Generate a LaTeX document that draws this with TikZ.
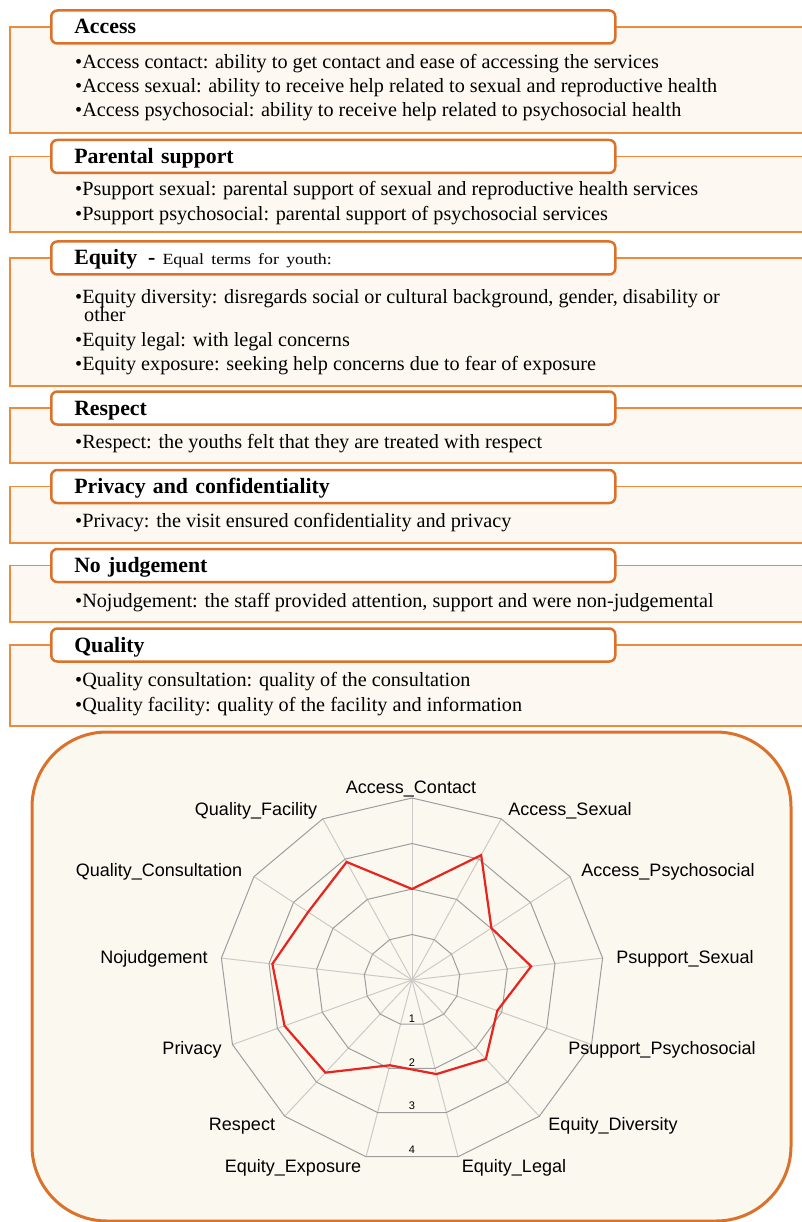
\documentclass[tikz,border=0pt]{standalone}
\usepackage{fontspec}
\setmainfont{Liberation Serif}
\setsansfont{Liberation Sans}
\newfontfamily\widefont[FakeStretch=1.15]{Liberation Serif}
\definecolor{boxorange}{RGB}{220,114,42}
\definecolor{lineorange}{RGB}{238,138,62}
\definecolor{boxcream}{RGB}{253,248,241}
\definecolor{chartcream}{RGB}{250,248,239}
\definecolor{ringgray}{RGB}{158,158,158}
\definecolor{spokegray}{RGB}{204,202,198}
\definecolor{datared}{RGB}{232,36,30}
\tikzset{
  sectionbg/.style={fill=boxcream, draw=lineorange, line width=1.8pt},
  titlebox/.style={draw=boxorange, line width=2.5pt, rounded corners=6pt, fill=white,
    anchor=west, minimum width=564pt, minimum height=33pt, inner xsep=23pt,
    text width=518pt, align=left, text height=15pt, text depth=1pt,
    font=\fontsize{21.8}{24}\selectfont\bfseries},
  itemtext/.style={anchor=base west, inner sep=0pt, font=\fontsize{20.2}{24}\selectfont},
  chartbox/.style={draw=boxorange, line width=3pt, rounded corners=75pt, fill=chartcream,
    minimum width=759pt, minimum height=489pt},
  axislabel/.style={inner sep=0pt, font=\sffamily\fontsize{18}{20}\selectfont},
  ringlabel/.style={inner sep=0pt, font=\sffamily\fontsize{11}{12}\selectfont},
  ring/.style={draw=ringgray, line width=1pt},
  spoke/.style={draw=spokegray, line width=1pt},
  dataline/.style={draw=datared, line width=2.2pt, line join=miter}
}
\begin{document}
\begin{tikzpicture}[x=1pt, y=-1pt]
  \useasboundingbox (0,0) rectangle (802,1222);

  % Section backgrounds (open to the right)
  \path[sectionbg] (802,27) -- (10,27) -- (10,133) -- (802,133);
  \path[sectionbg] (802,156.5) -- (10,156.5) -- (10,232) -- (802,232);
  \path[sectionbg] (802,258) -- (10,258) -- (10,386) -- (802,386);
  \path[sectionbg] (802,408) -- (10,408) -- (10,463) -- (802,463);
  \path[sectionbg] (802,486.5) -- (10,486.5) -- (10,543) -- (802,543);
  \path[sectionbg] (802,565.5) -- (10,565.5) -- (10,622) -- (802,622);
  \path[sectionbg] (802,645) -- (10,645) -- (10,726) -- (802,726);

  % Section titles
  \node[titlebox] (access) at (50,27) {Access};
  \node[titlebox] (psupport) at (50,156.5) {Parental support};
  \node[titlebox] (equity) at (50,258) {Equity\hspace{11pt}-\hspace{7pt}{\mdseries\widefont\fontsize{15.5}{18}\selectfont Equal terms for youth:}};
  \node[titlebox] (respect) at (50,408) {Respect};
  \node[titlebox] (privacy) at (50,486.5) {Privacy and confidentiality};
  \node[titlebox] (nojudge) at (50,565.5) {No judgement};
  \node[titlebox] (quality) at (50,645) {Quality};

  % Items
  \node[itemtext] (acccontact) at (75,69) {\textbullet Access contact: ability to get contact and ease of accessing the services};
  \node[itemtext] (accsexual) at (75,93) {\textbullet Access sexual: ability to receive help related to sexual and reproductive health};
  \node[itemtext] (accpsycho) at (75,117) {\textbullet Access psychosocial: ability to receive help related to psychosocial health};
  \node[itemtext] (pssexual) at (75,196) {\textbullet Psupport sexual: parental support of sexual and reproductive health services};
  \node[itemtext] (pspsycho) at (75,221) {\textbullet Psupport psychosocial: parental support of psychosocial services};
  \node[itemtext] (eqdiv) at (75,303) {\textbullet Equity diversity: disregards social or cultural background, gender, disability or};
  \node[itemtext] (eqdivb) at (84,321) {other};
  \node[itemtext] (eqlegal) at (75,346) {\textbullet Equity legal: with legal concerns};
  \node[itemtext] (eqexpo) at (75,370) {\textbullet Equity exposure: seeking help concerns due to fear of exposure};
  \node[itemtext] (respitem) at (75,448.5) {\textbullet Respect: the youths felt that they are treated with respect};
  \node[itemtext] (privitem) at (75,527.5) {\textbullet Privacy: the visit ensured confidentiality and privacy};
  \node[itemtext] (nojitem) at (75,607) {\textbullet Nojudgement: the staff provided attention, support and were non-judgemental};
  \node[itemtext] (qconsult) at (75,686) {\textbullet Quality consultation: quality of the consultation};
  \node[itemtext] (qfacility) at (75,711) {\textbullet Quality facility: quality of the facility and information};

  % Radar chart
  \node[chartbox] (chart) at (411.5,976.5) {};
  \begin{scope}[shift={(412,980)}, x=1.055pt, y=1pt]
    \foreach \i in {0,...,12}
      \draw[spoke] (0,0) -- ({90-\i*360/13}:182);
    \foreach \r in {1,...,4}
      \draw[ring] (90:45.5*\r) \foreach \i in {1,...,12} { -- ({90-\i*360/13}:45.5*\r) } -- cycle;
    \foreach \v [count=\i from 0] in {2.00,3.10,2.01,2.50,1.90,2.32,2.13,1.93,2.72,2.84,2.93,2.63,2.93}
      \coordinate (d\i) at ({90-\i*360/13}:\v*45.5);
    \draw[dataline] (d0) -- (d1) -- (d2) -- (d3) -- (d4) -- (d5) -- (d6) -- (d7)
      -- (d8) -- (d9) -- (d10) -- (d11) -- (d12) -- cycle;
    \node[ringlabel] (tick1) at (0,-39) {1};
    \node[ringlabel] (tick2) at (0,-83) {2};
    \node[ringlabel] (tick3) at (0,-126) {3};
    \node[ringlabel] (tick4) at (0,-170) {4};
  \end{scope}

  % Axis labels
  \node[axislabel] (lcontact) at (411,789) {Access\_Contact};
  \node[axislabel] (lasexual) at (570,811) {Access\_Sexual};
  \node[axislabel] (lapsycho) at (668,872) {Access\_Psychosocial};
  \node[axislabel] (lpsexual) at (685,959) {Psupport\_Sexual};
  \node[axislabel] (lppsycho) at (662,1050) {Psupport\_Psychosocial};
  \node[axislabel] (ldiv) at (613,1126) {Equity\_Diversity};
  \node[axislabel] (llegal) at (514,1168) {Equity\_Legal};
  \node[axislabel] (lexpo) at (293,1168) {Equity\_Exposure};
  \node[axislabel] (lresp) at (242,1126) {Respect};
  \node[axislabel] (lpriv) at (192,1050) {Privacy};
  \node[axislabel] (lnoj) at (154,959) {Nojudgement};
  \node[axislabel] (lqcons) at (159,872) {Quality\_Consultation};
  \node[axislabel] (lqfac) at (256,811) {Quality\_Facility};
\end{tikzpicture}
\end{document}
